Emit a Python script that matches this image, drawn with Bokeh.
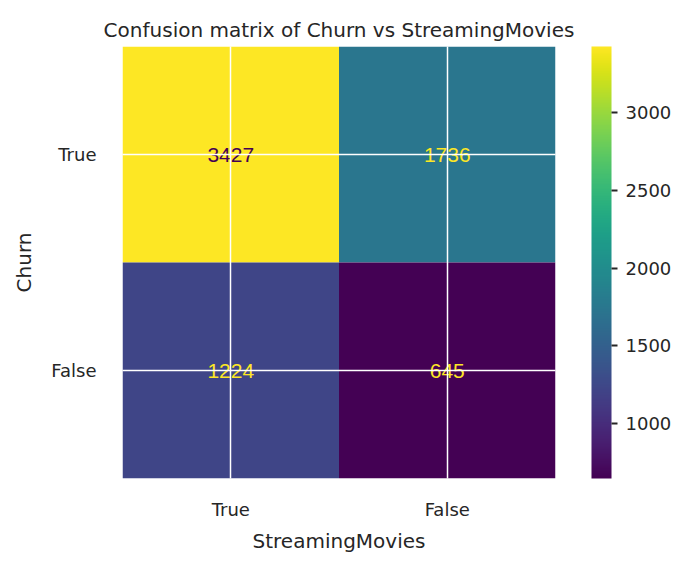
from bokeh.plotting import figure
from bokeh.models import ColumnDataSource, LinearColorMapper, ColorBar, FixedTicker
from bokeh.palettes import Viridis256
from bokeh.transform import transform
from bokeh.embed import file_html
from bokeh.resources import INLINE

churn = ["True", "True", "False", "False"]
streaming = ["True", "False", "True", "False"]
counts = [3427, 1736, 1224, 645]
text_colors = ["#440154", "#fde725", "#fde725", "#fde725"]

src = ColumnDataSource(dict(x=streaming, y=churn, c=counts,
                            label=[str(v) for v in counts], tc=text_colors))
mapper = LinearColorMapper(palette=Viridis256, low=min(counts), high=max(counts))

p = figure(x_range=["True", "False"], y_range=["False", "True"],
           frame_width=433, frame_height=432,
           min_border_left=122, min_border_top=46, min_border_bottom=80, min_border_right=20,
           output_backend="svg", toolbar_location=None,
           title="Confusion matrix of Churn vs StreamingMovies")
p.rect("x", "y", 1, 1, source=src, fill_color=transform("c", mapper), line_color=None)
p.text("x", "y", text="label", source=src, text_color="tc", text_align="center",
       text_baseline="middle", text_font_size="21px")

p.title.text_font = "DejaVu Sans"
p.title.text_font_size = "20px"
p.title.text_font_style = "normal"
p.title.text_color = "#262626"
p.title.align = "center"
p.outline_line_color = None
for ax in (p.xaxis[0], p.yaxis[0]):
    ax.axis_line_color = None
    ax.major_tick_line_color = None
    ax.minor_tick_line_color = None
    ax.major_label_text_font = "DejaVu Sans"
    ax.major_label_text_font_size = "18px"
    ax.major_label_text_color = "#262626"
    ax.axis_label_text_font = "DejaVu Sans"
    ax.axis_label_text_font_size = "20px"
    ax.axis_label_text_font_style = "normal"
    ax.axis_label_text_color = "#262626"
p.xaxis.axis_label = "StreamingMovies"
p.yaxis.axis_label = "Churn"
p.xaxis.major_label_standoff = 14
p.yaxis.major_label_standoff = 20
p.xaxis.axis_label_standoff = 6
p.yaxis.axis_label_standoff = 12
p.xgrid.grid_line_color = "white"
p.ygrid.grid_line_color = "white"
p.xgrid.grid_line_width = 1.5
p.ygrid.grid_line_width = 1.5
p.xgrid.level = "overlay"
p.ygrid.level = "overlay"

cb = ColorBar(color_mapper=mapper, width=20, height=432, padding=0,
              ticker=FixedTicker(ticks=[1000, 1500, 2000, 2500, 3000]),
              major_tick_in=0, major_tick_out=6, major_tick_line_color="#262626",
              major_tick_line_width=2, label_standoff=8,
              major_label_text_font="DejaVu Sans", major_label_text_font_size="18px",
              major_label_text_color="#262626", bar_line_color=None,
              border_line_color=None, background_fill_color=None)
spacer = ColorBar(color_mapper=mapper, width=36, height=432, padding=0, scale_alpha=0,
                  major_tick_line_color=None, major_label_text_alpha=0, label_standoff=0,
                  major_label_text_font_size="1px",
                  bar_line_color=None, border_line_color=None, background_fill_color=None)
p.add_layout(spacer, "right")
p.add_layout(cb, "right")

open("out.html", "w").write(file_html(p, INLINE))
